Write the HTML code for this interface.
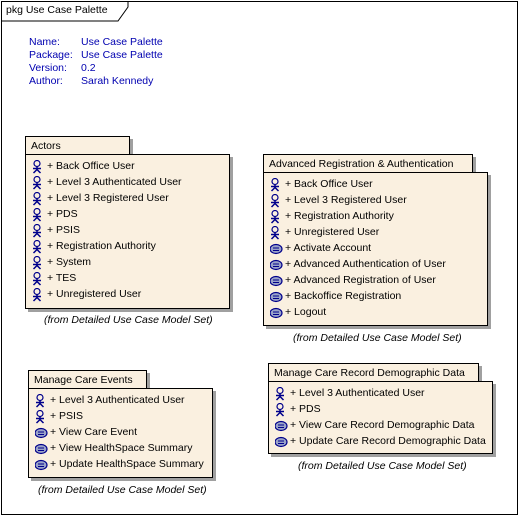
<!DOCTYPE html>
<html><head><meta charset="utf-8"><style>
body{margin:0;width:519px;height:516px;background:#fff;position:relative;overflow:hidden;font-family:"Liberation Sans",sans-serif;font-size:10.5px;color:#000}
.a{position:absolute;box-sizing:border-box}
.tab{position:absolute;box-sizing:border-box;background:#faf0e0;border:1px solid #000;box-shadow:3px 3px 0 #a0a0a0;padding:3px 0 0 5px;white-space:nowrap;line-height:13px}
.body{position:absolute;box-sizing:border-box;background:#faf0e0;border:1px solid #000;box-shadow:3px 3px 0 #a0a0a0}
.row{position:absolute;left:0;height:16px;line-height:16px;white-space:nowrap}
.row svg{position:absolute;left:6px;top:2px}
.row span{position:absolute;left:21px}
.from{position:absolute;font-style:italic;white-space:nowrap}
.info{position:absolute;color:#0000b0;line-height:13px}
</style></head><body>
<svg width="0" height="0" style="position:absolute"><defs>
<g id="act"><circle cx="5" cy="3.5" r="3" fill="none" stroke="#00008b" stroke-width="1.2"/><path d="M5 6.5V9.5M1 8.5H9M5 9.5L1.5 13M5 9.5L8.5 13" stroke="#00008b" stroke-width="1.5" fill="none"/></g>
<g id="uc"><ellipse cx="6" cy="7" rx="6" ry="4.5" fill="#9aa3c8" stroke="#00008b" stroke-width="1.2"/><path d="M3 6H9M3 8.5H9" stroke="#00008b" stroke-width="1"/></g>
</defs></svg>

<div class="a" style="left:1px;top:1px;width:517px;height:514px;border:1px solid #000"></div>
<svg class="a" style="left:1px;top:1px" width="130" height="21"><path d="M0 20H117L127 6V0" fill="none" stroke="#000"/></svg>
<div class="a" style="left:6px;top:4px;white-space:nowrap">pkg Use Case Palette</div>

<div class="info" style="left:29px;top:36px">Name:<br>Package:<br>Version:<br>Author:</div>
<div class="info" style="left:81px;top:36px">Use Case Palette<br>Use Case Palette<br>0.2<br>Sarah Kennedy</div>

<div class="tab" style="left:25px;top:136px;width:105px;height:20px">Actors</div>
<div class="body" style="left:25px;top:154px;width:205px;height:155px">
<div class="row" style="top:3px"><svg width="12" height="14"><use href="#act"/></svg><span>+ Back Office User</span></div>
<div class="row" style="top:19px"><svg width="12" height="14"><use href="#act"/></svg><span>+ Level 3 Authenticated User</span></div>
<div class="row" style="top:35px"><svg width="12" height="14"><use href="#act"/></svg><span>+ Level 3 Registered User</span></div>
<div class="row" style="top:51px"><svg width="12" height="14"><use href="#act"/></svg><span>+ PDS</span></div>
<div class="row" style="top:67px"><svg width="12" height="14"><use href="#act"/></svg><span>+ PSIS</span></div>
<div class="row" style="top:83px"><svg width="12" height="14"><use href="#act"/></svg><span>+ Registration Authority</span></div>
<div class="row" style="top:99px"><svg width="12" height="14"><use href="#act"/></svg><span>+ System</span></div>
<div class="row" style="top:115px"><svg width="12" height="14"><use href="#act"/></svg><span>+ TES</span></div>
<div class="row" style="top:131px"><svg width="12" height="14"><use href="#act"/></svg><span>+ Unregistered User</span></div>
</div>
<div class="from" style="left:44px;top:314px">(from Detailed Use Case Model Set)</div>

<div class="tab" style="left:263px;top:154px;width:210px;height:19px">Advanced Registration &amp; Authentication</div>
<div class="body" style="left:263px;top:172px;width:225px;height:154px">
<div class="row" style="top:3px"><svg width="12" height="14"><use href="#act"/></svg><span>+ Back Office User</span></div>
<div class="row" style="top:19px"><svg width="12" height="14"><use href="#act"/></svg><span>+ Level 3 Registered User</span></div>
<div class="row" style="top:35px"><svg width="12" height="14"><use href="#act"/></svg><span>+ Registration Authority</span></div>
<div class="row" style="top:51px"><svg width="12" height="14"><use href="#act"/></svg><span>+ Unregistered User</span></div>
<div class="row" style="top:67px"><svg width="13" height="14"><use href="#uc"/></svg><span>+ Activate Account</span></div>
<div class="row" style="top:83px"><svg width="13" height="14"><use href="#uc"/></svg><span>+ Advanced Authentication of User</span></div>
<div class="row" style="top:99px"><svg width="13" height="14"><use href="#uc"/></svg><span>+ Advanced Registration of User</span></div>
<div class="row" style="top:115px"><svg width="13" height="14"><use href="#uc"/></svg><span>+ Backoffice Registration</span></div>
<div class="row" style="top:131px"><svg width="13" height="14"><use href="#uc"/></svg><span>+ Logout</span></div>
</div>
<div class="from" style="left:293px;top:332px">(from Detailed Use Case Model Set)</div>

<div class="tab" style="left:28px;top:370px;width:119px;height:20px">Manage Care Events</div>
<div class="body" style="left:28px;top:388px;width:185px;height:90px">
<div class="row" style="top:3px"><svg width="12" height="14"><use href="#act"/></svg><span>+ Level 3 Authenticated User</span></div>
<div class="row" style="top:19px"><svg width="12" height="14"><use href="#act"/></svg><span>+ PSIS</span></div>
<div class="row" style="top:35px"><svg width="13" height="14"><use href="#uc"/></svg><span>+ View Care Event</span></div>
<div class="row" style="top:51px"><svg width="13" height="14"><use href="#uc"/></svg><span>+ View HealthSpace Summary</span></div>
<div class="row" style="top:67px"><svg width="13" height="14"><use href="#uc"/></svg><span>+ Update HealthSpace Summary</span></div>
</div>
<div class="from" style="left:38px;top:484px">(from Detailed Use Case Model Set)</div>

<div class="tab" style="left:268px;top:363px;width:211px;height:19px">Manage Care Record Demographic Data</div>
<div class="body" style="left:268px;top:381px;width:225px;height:73px">
<div class="row" style="top:3px"><svg width="12" height="14"><use href="#act"/></svg><span>+ Level 3 Authenticated User</span></div>
<div class="row" style="top:19px"><svg width="12" height="14"><use href="#act"/></svg><span>+ PDS</span></div>
<div class="row" style="top:35px"><svg width="13" height="14"><use href="#uc"/></svg><span>+ View Care Record Demographic Data</span></div>
<div class="row" style="top:51px"><svg width="13" height="14"><use href="#uc"/></svg><span>+ Update Care Record Demographic Data</span></div>
</div>
<div class="from" style="left:298px;top:460px">(from Detailed Use Case Model Set)</div>
</body></html>
